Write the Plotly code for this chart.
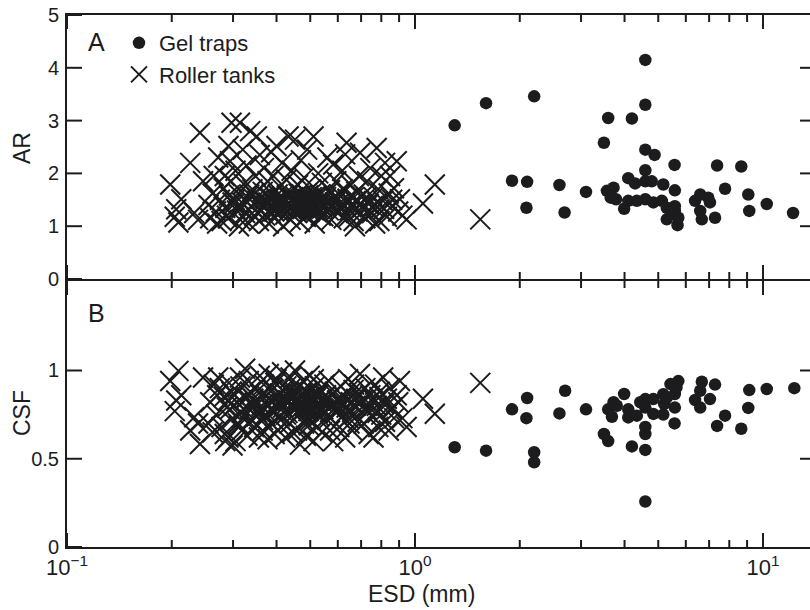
import plotly.graph_objects as go

# ---------------- data ----------------
# Roller tanks (same particles in both panels)
esd_roller = [
    0.198, 0.206, 0.209, 0.213, 0.204, 0.226, 0.241, 0.246, 0.232, 0.238,
    0.264, 0.272, 0.291, 0.294, 0.297, 0.255, 0.258, 0.262, 0.268, 0.275,
    0.278, 0.282, 0.285, 0.288, 0.292, 0.296, 0.299, 0.270, 0.284, 0.290,
    0.314, 0.336, 0.351, 0.305, 0.308, 0.310, 0.315, 0.318, 0.322, 0.325,
    0.328, 0.330, 0.333, 0.338, 0.341, 0.345, 0.348, 0.352, 0.356, 0.358,
    0.320, 0.303, 0.343, 0.312,
    0.362, 0.365, 0.368, 0.371, 0.374, 0.377, 0.380, 0.383, 0.386, 0.389,
    0.392, 0.395, 0.400, 0.403, 0.406, 0.409, 0.412, 0.415, 0.418, 0.421,
    0.424, 0.427, 0.430, 0.433, 0.436, 0.439, 0.442, 0.445, 0.448, 0.385,
    0.397, 0.410, 0.428, 0.440, 0.366,
    0.452, 0.455, 0.458, 0.461, 0.464, 0.467, 0.470, 0.473, 0.476, 0.480,
    0.483, 0.486, 0.490, 0.494, 0.498, 0.502, 0.506, 0.511, 0.515, 0.519,
    0.523, 0.527, 0.531, 0.536, 0.540, 0.545, 0.549, 0.470, 0.488, 0.505,
    0.525, 0.540, 0.495, 0.512, 0.460,
    0.555, 0.560, 0.565, 0.570, 0.575, 0.582, 0.588, 0.594, 0.600, 0.606,
    0.612, 0.618, 0.624, 0.630, 0.636, 0.642, 0.648, 0.654, 0.660, 0.666,
    0.672, 0.678, 0.684, 0.690, 0.695, 0.598, 0.620, 0.645, 0.668,
    0.705, 0.712, 0.720, 0.728, 0.736, 0.744, 0.752, 0.760, 0.768, 0.776,
    0.784, 0.792, 0.800, 0.810, 0.820, 0.830, 0.840, 0.848, 0.858, 0.870,
    0.886, 0.895, 0.905, 0.920, 0.946, 0.730, 0.790,
    1.054, 1.14, 1.54,
    0.302, 0.318, 0.327, 0.334, 0.347, 0.361, 0.372, 0.379, 0.388, 0.394,
    0.401, 0.407, 0.414, 0.420, 0.426, 0.432, 0.438, 0.444, 0.450, 0.457,
    0.463, 0.469, 0.475, 0.481, 0.487, 0.493, 0.499, 0.504, 0.510, 0.516,
    0.521, 0.528, 0.534, 0.542, 0.551, 0.562, 0.573, 0.585, 0.597, 0.610,
    0.626, 0.640, 0.657, 0.675, 0.700, 0.725, 0.755, 0.780, 0.815, 0.860,
]
ar_roller = [
    1.79, 1.32, 1.07, 1.51, 1.18, 2.20, 2.77, 1.85, 1.25, 1.12,
    1.95, 2.30, 2.52, 2.23, 2.96, 1.40, 1.15, 1.62, 1.28, 1.50,
    1.10, 1.72, 1.35, 1.20, 1.58, 1.85, 1.45, 1.05, 1.95, 1.15,
    2.96, 2.80, 2.70, 2.05, 1.30, 1.62, 1.12, 1.45, 1.80, 1.25,
    2.15, 1.55, 1.05, 1.38, 1.70, 1.20, 1.95, 1.48, 1.10, 2.35,
    2.45, 1.50, 1.60, 1.00,
    1.30, 1.65, 2.10, 1.20, 1.45, 1.85, 1.05, 1.55, 2.40, 1.35,
    1.95, 1.15, 2.52, 1.60, 1.28, 1.75, 1.42, 2.20, 1.00, 1.52,
    1.22, 1.88, 1.38, 2.70, 1.62, 1.12, 2.05, 1.48, 1.30, 1.25,
    1.40, 1.50, 1.58, 1.32, 1.50,
    2.64, 1.55, 1.25, 1.78, 1.40, 1.08, 2.25, 1.60, 1.33, 1.92,
    1.45, 1.18, 2.45, 1.52, 1.28, 1.70, 1.40, 2.70, 1.05, 1.58,
    1.35, 2.00, 1.48, 1.20, 1.82, 1.19, 1.42, 1.50, 1.62, 1.55,
    1.45, 1.38, 1.38, 1.30, 1.48,
    1.55, 2.30, 1.30, 1.68, 1.12, 2.17, 1.45, 1.85, 1.25, 1.60,
    1.38, 2.05, 1.15, 2.36, 2.58, 1.50, 1.30, 1.78, 1.42, 1.10,
    1.00, 1.65, 1.28, 1.95, 2.39, 1.50, 1.70, 1.18, 1.55,
    1.35, 1.60, 1.15, 1.85, 1.42, 2.10, 1.25, 1.55, 1.05, 2.48,
    1.70, 1.32, 1.95, 1.48, 2.20, 1.18, 1.62, 1.95, 1.38, 1.72,
    2.23, 1.28, 1.51, 1.20, 1.13, 1.25, 1.10,
    1.43, 1.79, 1.13,
    1.42, 1.35, 1.48, 1.60, 1.30, 1.52, 1.38, 1.45, 1.62, 1.28,
    1.50, 1.40, 1.55, 1.33, 1.47, 1.58, 1.36, 1.52, 1.44, 1.30,
    1.62, 1.40, 1.50, 1.35, 1.45, 1.58, 1.32, 1.48, 1.40, 1.55,
    1.27, 1.46, 1.60, 1.35, 1.50, 1.42, 1.38, 1.55, 1.32, 1.45,
    1.40, 1.52, 1.36, 1.48, 1.42, 1.55, 1.38, 1.45, 1.33, 1.50,
]
csf_roller = [
    0.94, 0.83, 0.998, 0.86, 0.77, 0.66, 0.584, 0.96, 0.735, 0.70,
    0.92, 0.96, 0.62, 0.78, 0.88, 0.70, 0.82, 0.65, 0.75, 0.90,
    0.68, 0.85, 0.60, 0.79, 0.93, 0.72, 0.575, 0.86, 0.64, 0.83,
    0.96, 0.88, 0.74, 0.60, 0.82, 0.70, 0.91, 0.66, 0.78, 1.01,
    0.85, 0.63, 0.94, 0.72, 0.80, 0.68, 0.90, 0.76, 0.62, 0.97,
    0.73, 0.86, 0.84, 0.69,
    0.80, 0.66, 0.92, 0.75, 0.86, 0.61, 0.98, 0.83, 0.70, 0.89,
    0.77, 0.64, 0.95, 0.82, 0.73, 0.87, 0.68, 0.99, 0.79, 0.84,
    0.62, 0.91, 0.76, 0.88, 0.70, 0.96, 0.81, 0.65, 0.85, 0.78,
    0.93, 0.74, 0.83, 0.90, 0.72,
    1.00, 0.82, 0.66, 0.90, 0.75, 0.58, 0.86, 0.79, 0.94, 0.70,
    0.84, 0.63, 0.88, 0.77, 0.97, 0.72, 0.85, 0.60, 0.91, 0.80,
    0.68, 0.87, 0.74, 0.83, 0.65, 0.78, 0.92, 0.81, 0.73, 0.89,
    0.76, 0.84, 0.69, 0.95, 0.80,
    0.86, 0.72, 0.94, 0.66, 0.80, 0.60, 0.88, 0.76, 0.83, 0.68,
    0.91, 0.74, 0.85, 0.62, 0.79, 0.95, 0.70, 0.82, 0.66, 0.89,
    0.75, 0.84, 0.71, 0.87, 0.98, 0.78, 0.81, 0.73, 0.92,
    0.83, 0.70, 0.90, 0.77, 0.64, 0.86, 0.74, 0.62, 0.92, 0.80,
    0.68, 0.88, 0.75, 0.96, 0.71, 0.84, 0.66, 0.90, 0.78, 0.73,
    0.86, 0.82, 0.94, 0.73, 0.68, 0.80, 0.85,
    0.84, 0.755, 0.93,
    0.80, 0.76, 0.84, 0.78, 0.82, 0.86, 0.74, 0.80, 0.83, 0.77,
    0.85, 0.79, 0.81, 0.88, 0.75, 0.83, 0.80, 0.86, 0.78, 0.82,
    0.84, 0.76, 0.87, 0.80, 0.83, 0.79, 0.85, 0.81, 0.77, 0.84,
    0.80, 0.86, 0.78, 0.82, 0.76, 0.84, 0.80, 0.78, 0.83, 0.79,
    0.81, 0.77, 0.85, 0.80, 0.82, 0.78, 0.84, 0.76, 0.81, 0.79,
]

# Gel traps, panel A (AR)
esd_gel_a = [
    1.30, 1.60, 1.90, 2.09, 2.10, 2.20, 2.60, 2.69, 3.10, 3.49,
    3.56, 3.59, 3.65, 3.72, 3.78, 3.99, 4.10, 4.10, 4.20, 4.29,
    4.34, 4.59, 4.59, 4.59, 4.59, 4.59, 4.59, 4.79, 4.84, 4.88,
    5.12, 5.17, 5.29, 5.29, 5.47, 5.57, 5.58, 5.58, 5.58, 5.68,
    5.71, 6.38, 6.60, 6.60, 6.67, 6.96, 7.04, 7.28, 7.38, 7.78,
    8.66, 9.07, 9.13, 10.25, 12.2,
]
ar_gel = [
    2.91, 3.33, 1.86, 1.35, 1.84, 3.46, 1.78, 1.26, 1.65, 2.58,
    1.67, 3.05, 1.54, 1.73, 1.51, 1.33, 1.48, 1.91, 3.04, 1.81,
    1.48, 4.15, 3.30, 2.45, 2.06, 1.51, 1.85, 1.85, 1.45, 2.35,
    1.48, 1.79, 1.13, 1.35, 1.26, 2.16, 1.29, 1.68, 1.38, 1.02,
    1.16, 1.48, 1.29, 1.60, 1.13, 1.54, 1.45, 1.16, 2.15, 1.71,
    2.13, 1.60, 1.29, 1.42, 1.25,
]

# Gel traps, panel B (CSF)
esd_gel_b = [
    1.30, 1.60, 1.90, 2.09, 2.10, 2.20, 2.20, 2.60, 2.70, 3.10,
    3.49, 3.59, 3.59, 3.68, 3.72, 3.80, 3.99, 4.10, 4.10, 4.20,
    4.34, 4.44, 4.59, 4.59, 4.59, 4.59, 4.59, 4.59, 4.84, 4.84,
    5.17, 5.17, 5.20, 5.29, 5.42, 5.57, 5.58, 5.58, 5.64, 5.71,
    6.38, 6.60, 6.60, 6.67, 7.04, 7.28, 7.38, 7.78, 8.66, 9.07,
    9.13, 10.25, 12.3,
]
csf_gel = [
    0.565, 0.546, 0.78, 0.73, 0.844, 0.537, 0.48, 0.757, 0.885, 0.78,
    0.64, 0.60, 0.78, 0.738, 0.82, 0.80, 0.867, 0.78, 0.734, 0.57,
    0.744, 0.82, 0.258, 0.55, 0.64, 0.68, 0.838, 0.79, 0.838, 0.754,
    0.75, 0.866, 0.81, 0.847, 0.923, 0.70, 0.867, 0.79, 0.904, 0.94,
    0.833, 0.885, 0.79, 0.936, 0.838, 0.92, 0.686, 0.744, 0.67, 0.788,
    0.889, 0.895, 0.90,
]

x_tickvals = [0.1, 1, 10]
x_ticktext = ["10<sup>\u22121</sup>", "10<sup>0</sup>", "10<sup>1</sup>"]
x_minor = [0.2, 0.3, 0.4, 0.5, 0.6, 0.7, 0.8, 0.9, 2, 3, 4, 5, 6, 7, 8, 9]
ar_ticks = [0, 1, 2, 3, 4, 5]
ar_ticks_right = [1, 2, 3, 4]
csf_ticks = [0, 0.5, 1]
csf_ticks_right = [0.5, 1]

# ---------------- styling ----------------
INK = "#1c1c1e"
FONT = "Liberation Sans, Arial, Helvetica, sans-serif"

fig = go.Figure()

x_marker = dict(symbol="x-thin", size=20, color=INK, line=dict(width=2, color=INK))
dot_marker = dict(symbol="circle", size=12.5, color=INK, line=dict(width=0))

fig.add_trace(go.Scatter(x=esd_roller, y=ar_roller, mode="markers", marker=x_marker,
                         name="Roller tanks", legendrank=2, xaxis="x", yaxis="y"))
fig.add_trace(go.Scatter(x=esd_gel_a, y=ar_gel, mode="markers", marker=dot_marker,
                         name="Gel traps", legendrank=1, xaxis="x", yaxis="y"))
fig.add_trace(go.Scatter(x=esd_roller, y=csf_roller, mode="markers", marker=x_marker,
                         name="Roller tanks", showlegend=False, xaxis="x2", yaxis="y2"))
fig.add_trace(go.Scatter(x=esd_gel_b, y=csf_gel, mode="markers", marker=dot_marker,
                         name="Gel traps", showlegend=False, xaxis="x2", yaxis="y2"))

L, R, T, B = 67, 0, 15, 63
W, H = 810, 610
plot_h = H - T - B

def py_to_dom(py):
    return (H - B - py) / plot_h

top_bottom = py_to_dom(279)   # top panel plot area bottom edge
bot_top = py_to_dom(281)      # bottom panel plot area top edge

XRANGE = [-1, 1.135]

common_x = dict(type="log", range=XRANGE, showgrid=False, zeroline=False,
                showline=True, linewidth=2, linecolor=INK, mirror=True,
                ticks="", tickmode="array", tickvals=x_tickvals, ticktext=x_ticktext,
                tickfont=dict(family=FONT, size=22, color=INK))
common_y = dict(showgrid=False, zeroline=False, showline=True, linewidth=2, linecolor=INK,
                mirror=False, ticks="", tickmode="array",
                ticklabelstandoff=2,
                tickfont=dict(family=FONT, size=20, color=INK))

fig.update_layout(
    width=W, height=H,
    margin=dict(l=L, r=R, t=T, b=B),
    paper_bgcolor="white", plot_bgcolor="white",
    font=dict(family=FONT, color=INK),
    xaxis=dict(domain=[0, 1], anchor="y", showticklabels=False, **common_x),
    xaxis2=dict(domain=[0, 1], anchor="y2", showticklabels=True, **common_x),
    yaxis=dict(domain=[top_bottom, 1], anchor="x", range=[0, 5], tickvals=ar_ticks, **common_y),
    yaxis2=dict(domain=[0, bot_top], anchor="x2", range=[0, 1.507], tickvals=csf_ticks,
                ticktext=["0", "0.5", "1"], **common_y),
    showlegend=True,
    legend=dict(x=(119 - L) / (W - L - R), y=py_to_dom(22), xanchor="left", yanchor="top",
                bgcolor="rgba(0,0,0,0)", font=dict(family=FONT, size=22, color=INK),
                tracegroupgap=0, itemwidth=30),
)

# ---- tick marks drawn as axis-referenced shapes (lengths in pixels) ----
tick_line = dict(color=INK, width=2)
shapes = []
for xr, yr in (("x", "y"), ("x2", "y2")):
    for vals, ln in ((x_tickvals, 14), (x_minor, 7)):
        for v in vals:
            # ticks pointing up from the panel's bottom edge
            shapes.append(dict(type="line", xref=xr, yref=yr + " domain", ysizemode="pixel",
                               yanchor=0, x0=v, x1=v, y0=0, y1=ln, line=tick_line, layer="above"))
            # ticks pointing down from the panel's top edge
            shapes.append(dict(type="line", xref=xr, yref=yr + " domain", ysizemode="pixel",
                               yanchor=1, x0=v, x1=v, y0=0, y1=-ln, line=tick_line, layer="above"))

for xr, yr, left_vals, right_vals in (("x", "y", ar_ticks, ar_ticks_right),
                                      ("x2", "y2", csf_ticks, csf_ticks_right)):
    for v in left_vals:
        shapes.append(dict(type="line", xref=xr + " domain", yref=yr, xsizemode="pixel",
                           xanchor=0, x0=0, x1=15, y0=v, y1=v, line=tick_line, layer="above"))
    for v in right_vals:
        shapes.append(dict(type="line", xref=xr + " domain", yref=yr, xsizemode="pixel",
                           xanchor=1, x0=-10, x1=0, y0=v, y1=v, line=tick_line, layer="above"))
fig.update_layout(shapes=shapes)

def px_to_paper_x(px):
    return (px - L) / (W - L - R)

annotations = [
    dict(text="AR", x=px_to_paper_x(22), y=py_to_dom(148), textangle=-90, size=23),
    dict(text="CSF", x=px_to_paper_x(22), y=py_to_dom(413), textangle=-90, size=23),
    dict(text="ESD (mm)", x=px_to_paper_x(421), y=py_to_dom(594), textangle=0, size=23),
    dict(text="A", x=px_to_paper_x(96), y=py_to_dom(42), textangle=0, size=25),
    dict(text="B", x=px_to_paper_x(96), y=py_to_dom(313), textangle=0, size=25),
]
for a in annotations:
    fig.add_annotation(text=a["text"], x=a["x"], y=a["y"], xref="paper", yref="paper",
                       xanchor="center", yanchor="middle", showarrow=False,
                       textangle=a["textangle"], font=dict(family=FONT, size=a["size"], color=INK))

fig.write_html("out.html")
